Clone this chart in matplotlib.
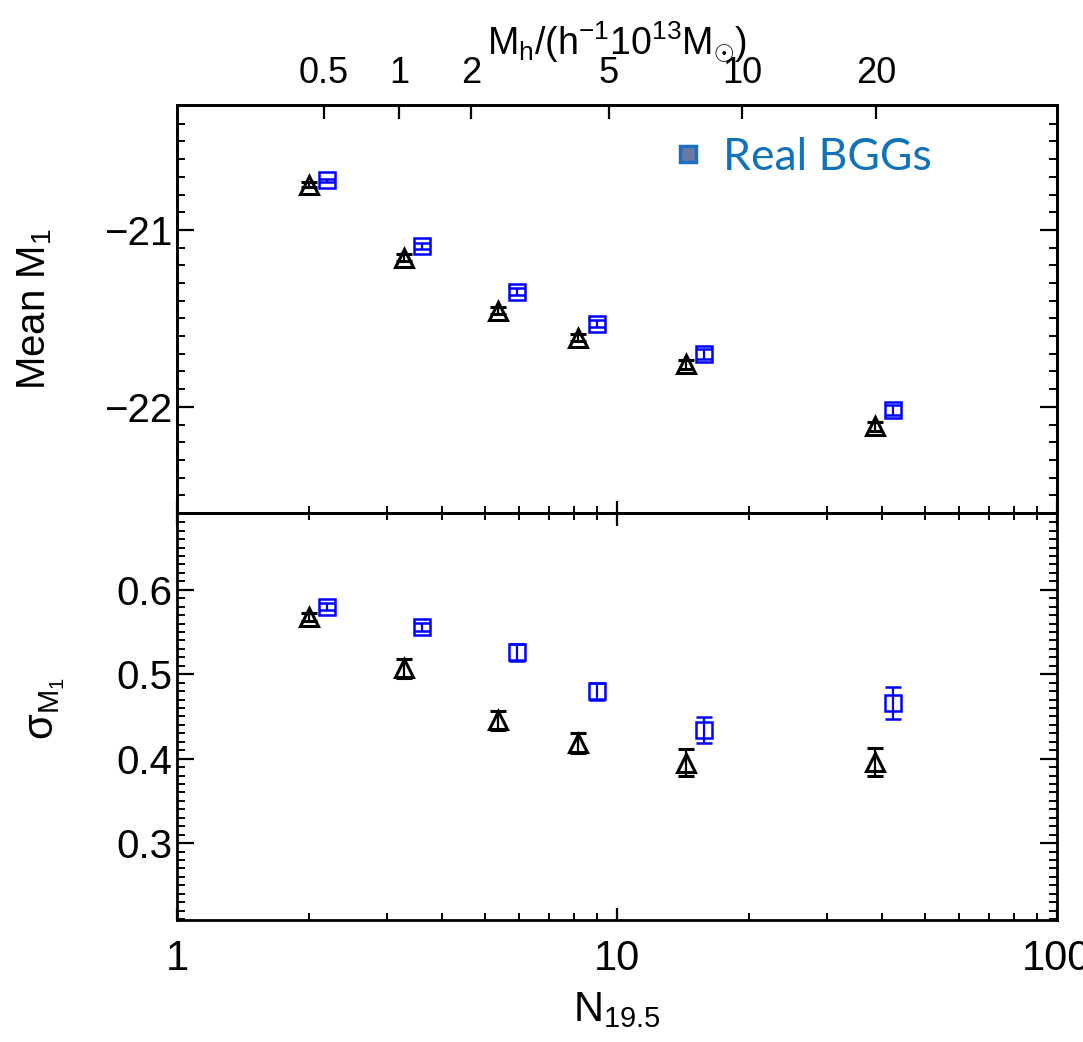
import numpy as np
import matplotlib
matplotlib.use("Agg")
from matplotlib import pyplot as plt
from matplotlib.lines import Line2D
from matplotlib.ticker import LogLocator, MultipleLocator, NullLocator, NullFormatter, FixedLocator

# --- data ------------------------------------------------------------------
n_tri = [2.0, 3.28, 5.36, 8.15, 14.35, 38.6]
n_sq = [2.19, 3.60, 5.93, 9.01, 15.77, 42.4]

mean_tri = [-20.744, -21.156, -21.456, -21.61, -21.76, -22.11]
mean_tri_err = [0.015, 0.02, 0.02, 0.02, 0.025, 0.025]
mean_sq = [-20.72, -21.09, -21.35, -21.53, -21.70, -22.02]
mean_sq_err = [0.01, 0.017, 0.02, 0.02, 0.027, 0.028]

sig_tri = [0.568, 0.507, 0.4455, 0.419, 0.395, 0.396]
sig_tri_err = [0.005, 0.011, 0.011, 0.012, 0.016, 0.017]
sig_sq = [0.580, 0.556, 0.526, 0.480, 0.434, 0.466]
sig_sq_err = [0.004, 0.0045, 0.010, 0.010, 0.015, 0.019]

# halo-mass axis on top: N positions of the ticks and their labels
mh_tick_pos = [2.16, 3.196, 4.66, 9.59, 19.23, 38.8]
mh_tick_labels = ['0.5', '1', '2', '5', '10', '20']

BASE = 'Liberation Sans'
plt.rcParams['mathtext.fontset'] = 'custom'
plt.rcParams['mathtext.rm'] = BASE
plt.rcParams['mathtext.it'] = BASE + ':italic'
plt.rcParams['mathtext.bf'] = BASE + ':bold'


def style_axis(ax):
    for sp in ax.spines.values():
        sp.set_linewidth(2)
    ax.tick_params(which='both', direction='in', left=True, right=True,
                   bottom=True, top=False)
    ax.tick_params(axis='y', which='major', length=12, width=1.6)
    ax.tick_params(axis='y', which='minor', length=6, width=1.4)
    ax.tick_params(axis='x', which='major', length=9, width=1.6)
    ax.tick_params(axis='x', which='minor', length=5, width=1.4)
    ax.tick_params(labelsize=29)
    for lab in ax.get_xticklabels() + ax.get_yticklabels():
        lab.set_family(BASE)


def draw_points(ax, ytri, etri, ysq, esq):
    ax.errorbar(n_tri, ytri, yerr=etri, fmt='^', ms=13, mfc='none', mec='k',
                mew=2.2, ecolor='k', elinewidth=1.6, capsize=6, capthick=1.6)
    ax.errorbar(n_sq, ysq, yerr=esq, fmt='s', ms=12, mfc='none', mec='blue',
                mew=1.8, ecolor='blue', elinewidth=1.6, capsize=6, capthick=1.6)


def main():
    fig = plt.figure(figsize=(10.83, 10.42), dpi=100)
    ax1 = fig.add_axes([0.1634, 0.5077, 0.8126, 0.3915])
    ax2 = fig.add_axes([0.1634, 0.1171, 0.8126, 0.3906])

    for ax in (ax1, ax2):
        ax.set_xscale('log')
        ax.set_xlim(1, 100)
        ax.xaxis.set_major_locator(LogLocator(base=10))
        ax.xaxis.set_minor_locator(LogLocator(base=10, subs=np.arange(2, 10)))
        ax.xaxis.set_minor_formatter(NullFormatter())

    # top panel: mean magnitude
    draw_points(ax1, mean_tri, mean_tri_err, mean_sq, mean_sq_err)
    ax1.set_ylim(-22.6, -20.294)
    ax1.yaxis.set_major_locator(FixedLocator([-22, -21]))
    ax1.yaxis.set_minor_locator(MultipleLocator(0.1))
    ax1.set_yticklabels(['\u221222', '\u221221'])
    style_axis(ax1)
    ax1.tick_params(labelbottom=False)
    ax1.set_ylabel('Mean M$_1$', fontsize=29, family=BASE)
    ax1.yaxis.set_label_coords(-0.14, 0.5)

    # halo mass labels on top
    axt = ax1.twiny()
    axt.set_xscale('log')
    axt.set_xlim(1, 100)
    axt.xaxis.set_major_locator(FixedLocator(mh_tick_pos))
    axt.xaxis.set_minor_locator(NullLocator())
    axt.set_xticklabels(mh_tick_labels)
    axt.tick_params(axis='x', direction='in', length=10, width=1.6,
                    labelsize=26, pad=10)
    for lab in axt.get_xticklabels():
        lab.set_family(BASE)
    axt.set_xlabel(r'M$_{\rm h}$/(h$^{-1}$10$^{13}$M$_{\odot}$)', fontsize=27,
                   family=BASE, labelpad=2)
    for sp in axt.spines.values():
        sp.set_linewidth(2)

    handle = Line2D([], [], marker='s', ls='', ms=12, mfc='#6b79a6',
                    mec='#1a6fc0', mew=2.5)
    ax1.legend([handle], ['Real BGGs'], loc='center left',
               bbox_to_anchor=(0.568, 0.872), frameon=False, borderpad=0,
               borderaxespad=0, handlelength=0.5, handletextpad=0.55,
               labelcolor='#0f72ba', prop={'family': 'Lato', 'size': 32})

    # bottom panel: scatter
    draw_points(ax2, sig_tri, sig_tri_err, sig_sq, sig_sq_err)
    ax2.set_ylim(0.209, 0.691)
    ax2.yaxis.set_major_locator(FixedLocator([0.3, 0.4, 0.5, 0.6]))
    ax2.yaxis.set_minor_locator(MultipleLocator(0.01))
    style_axis(ax2)
    ax2.tick_params(top=True, which='both')
    ax2.tick_params(axis='y', which='minor', length=6)
    ax2.set_xticks([1, 10, 100], ['1', '10', '100'])
    ax2.tick_params(axis='x', labelsize=30, pad=14)
    for lab in ax2.get_xticklabels():
        lab.set_family(BASE)
    ax2.set_ylabel('\u03c3$_{\\rm M_1}$', fontsize=30, family=BASE)
    ax2.yaxis.set_label_coords(-0.125, 0.52)
    ax2.set_xlabel('N$_{19.5}$', fontsize=30, family=BASE, labelpad=8)

    fig.savefig('out.png', dpi=100)


if __name__ == "__main__":
    main()
